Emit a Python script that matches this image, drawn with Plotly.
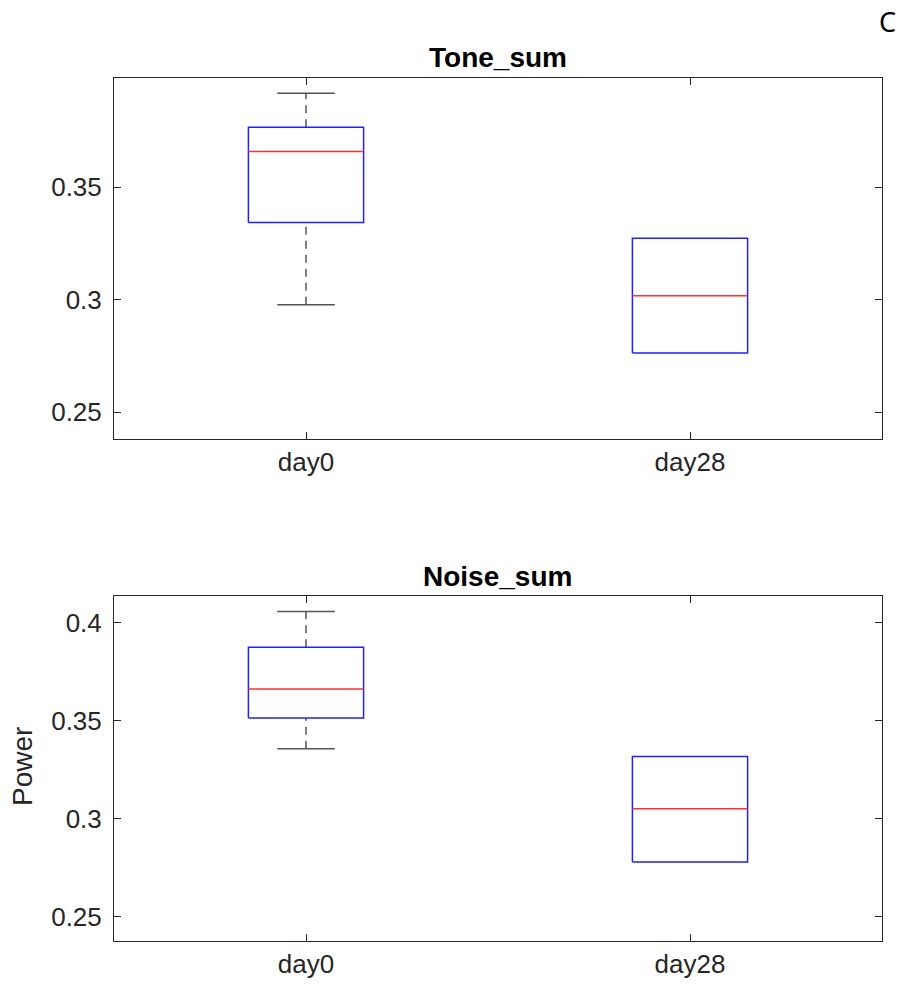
import plotly.graph_objects as go

categories = ["day0", "day28"]
cat_pos = [1, 2]

# Tone_sum box statistics
tone_lower_whisker = [0.2978, 0.2763]
tone_q1 = [0.3344, 0.2763]
tone_median = [0.3659, 0.3018]
tone_q3 = [0.3768, 0.3273]
tone_upper_whisker = [0.3919, 0.3273]

# Noise_sum box statistics
noise_lower_whisker = [0.3357, 0.2779]
noise_q1 = [0.3514, 0.2779]
noise_median = [0.3662, 0.3051]
noise_q3 = [0.3875, 0.3318]
noise_upper_whisker = [0.4058, 0.3318]

y_ticks = [0.25, 0.3, 0.35, 0.4]
y_tick_text = ["0.25", "0.3", "0.35", "0.4"]

BOX_HALF = 0.15
CAP_HALF = 0.075
BLUE = "#2020ff"
RED = "#ff3030"
WHISK = "#555555"
AX = "#262626"
FONT = "Liberation Sans, Arial, sans-serif"

fig = go.Figure()


def add_boxes(xa, ya, lw, q1, med, q3, uw):
    for i, x in enumerate(cat_pos):
        # whiskers (dashed)
        if uw[i] > q3[i]:
            fig.add_trace(go.Scatter(x=[x, x], y=[q3[i], uw[i]], mode="lines",
                                     line=dict(color=WHISK, width=1.5, dash="8px,6px"),
                                     xaxis=xa, yaxis=ya, hoverinfo="skip", showlegend=False))
            fig.add_trace(go.Scatter(x=[x - CAP_HALF, x + CAP_HALF], y=[uw[i], uw[i]], mode="lines",
                                     line=dict(color=WHISK, width=1.5),
                                     xaxis=xa, yaxis=ya, hoverinfo="skip", showlegend=False))
        if lw[i] < q1[i]:
            fig.add_trace(go.Scatter(x=[x, x], y=[lw[i], q1[i]], mode="lines",
                                     line=dict(color=WHISK, width=1.5, dash="8px,6px"),
                                     xaxis=xa, yaxis=ya, hoverinfo="skip", showlegend=False))
            fig.add_trace(go.Scatter(x=[x - CAP_HALF, x + CAP_HALF], y=[lw[i], lw[i]], mode="lines",
                                     line=dict(color=WHISK, width=1.5),
                                     xaxis=xa, yaxis=ya, hoverinfo="skip", showlegend=False))
        # box
        fig.add_trace(go.Scatter(
            x=[x - BOX_HALF, x + BOX_HALF, x + BOX_HALF, x - BOX_HALF, x - BOX_HALF],
            y=[q1[i], q1[i], q3[i], q3[i], q1[i]], mode="lines",
            line=dict(color=BLUE, width=1.5),
            xaxis=xa, yaxis=ya, hoverinfo="skip", showlegend=False))
        # median
        fig.add_trace(go.Scatter(x=[x - BOX_HALF, x + BOX_HALF], y=[med[i], med[i]], mode="lines",
                                 line=dict(color=RED, width=1.5),
                                 xaxis=xa, yaxis=ya, hoverinfo="skip", showlegend=False))


add_boxes("x", "y", tone_lower_whisker, tone_q1, tone_median, tone_q3, tone_upper_whisker)
add_boxes("x2", "y2", noise_lower_whisker, noise_q1, noise_median, noise_q3, noise_upper_whisker)

W, H = 901, 989
xdom = [114 / W, 882 / W]
top_dom = [1 - 439 / H, 1 - 77.7 / H]
bot_dom = [1 - 941 / H, 1 - 595.7 / H]

axis_common = dict(showline=True, mirror="allticks", linecolor=AX, linewidth=1,
                   ticks="inside", ticklen=7, tickcolor=AX, tickwidth=1,
                   showgrid=False, zeroline=False,
                   tickfont=dict(family=FONT, size=26, color=AX))

fig.update_layout(
    width=W, height=H,
    margin=dict(l=0, r=0, t=0, b=0),
    paper_bgcolor="white", plot_bgcolor="white",
    showlegend=False,
    xaxis=dict(domain=xdom, anchor="y", range=[0.5, 2.5], tickvals=cat_pos, ticktext=categories,
               **axis_common),
    yaxis=dict(domain=top_dom, anchor="x", range=[0.238, 0.3988], tickvals=y_ticks, ticktext=y_tick_text,
               ticklabelstandoff=6, **axis_common),
    xaxis2=dict(domain=xdom, anchor="y2", range=[0.5, 2.5], tickvals=cat_pos, ticktext=categories,
                **axis_common),
    yaxis2=dict(domain=bot_dom, anchor="x2", range=[0.2376, 0.4138], tickvals=y_ticks, ticktext=y_tick_text,
                ticklabelstandoff=6, **axis_common),
    annotations=[
        dict(text="<b>Tone_sum</b>", xref="paper", yref="paper", x=(xdom[0] + xdom[1]) / 2,
             y=1 - 57 / H, xanchor="center", yanchor="middle", showarrow=False,
             font=dict(family=FONT, size=28, color="black")),
        dict(text="<b>Noise_sum</b>", xref="paper", yref="paper", x=(xdom[0] + xdom[1]) / 2,
             y=1 - 576 / H, xanchor="center", yanchor="middle", showarrow=False,
             font=dict(family=FONT, size=28, color="black")),
        dict(text="Power", xref="paper", yref="paper", x=22 / W, y=1 - 767 / H,
             xanchor="center", yanchor="middle", textangle=-90, showarrow=False,
             font=dict(family=FONT, size=28, color=AX)),
        dict(text="C", xref="paper", yref="paper", x=898 / W, y=1 - 22 / H,
             xanchor="right", yanchor="middle", showarrow=False,
             font=dict(family="Noto Sans, sans-serif", size=27, color="black")),
    ],
)

fig.write_html("out.html")
